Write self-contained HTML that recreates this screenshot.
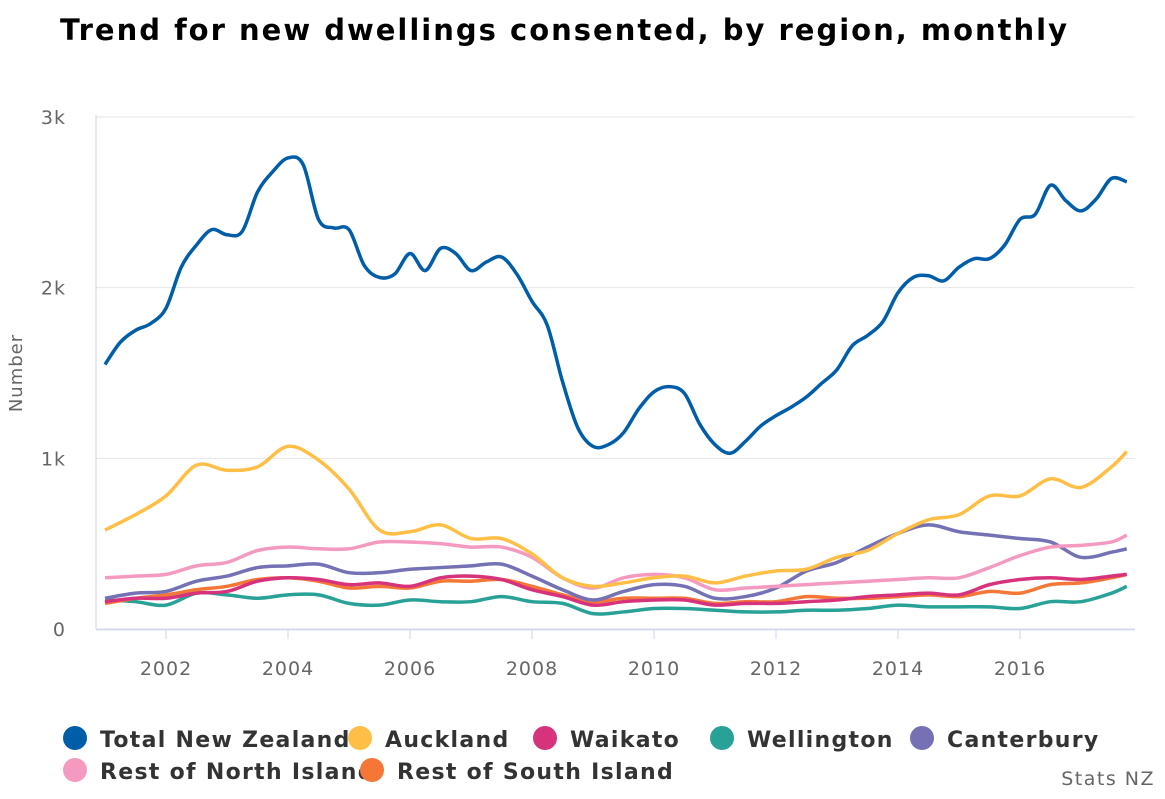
<!DOCTYPE html>
<html><head><meta charset="utf-8"><style>
body{margin:0;background:#fff;width:1165px;height:795px;overflow:hidden;font-family:"DejaVu Sans","Liberation Sans",sans-serif}
</style></head><body>
<svg width="1165" height="795">
<text x="60" y="40" font-size="29" font-weight="bold" fill="#000" letter-spacing="2">Trend for new dwellings consented, by region, monthly</text>
<g id="grid"></g>
<g id="axes"></g>
<text transform="translate(22,373) rotate(-90)" text-anchor="middle" font-size="18" fill="#666" letter-spacing="1">Number</text>
<g id="series"></g>
<g id="legend"></g>
<text x="1155" y="785" text-anchor="end" font-size="19" fill="#666" letter-spacing="1.5">Stats NZ</text>
</svg>
<script>
const yTicks=[0,1000,2000,3000];
const yTickLabels=["0","1k","2k","3k"];
const xTicks=[2002,2004,2006,2008,2010,2012,2014,2016];
const quarterYears=[];for(let i=0;i<=67;i++)quarterYears.push(2001+i*0.25);
const halfYears=[];for(let i=0;i<=33;i++)halfYears.push(2001+i*0.5);halfYears.push(2017.75);
const totalNZ=[1550,1680,1750,1790,1880,2120,2250,2340,2310,2330,2560,2680,2760,2720,2400,2350,2340,2130,2060,2080,2200,2100,2230,2200,2100,2150,2180,2080,1920,1780,1450,1180,1070,1080,1150,1290,1390,1420,1380,1200,1080,1030,1100,1190,1250,1300,1360,1440,1520,1660,1720,1800,1970,2060,2070,2040,2120,2170,2170,2250,2400,2430,2600,2510,2450,2520,2640,2620];
const auckland=[580,670,780,960,930,950,1070,990,820,580,570,610,530,530,440,300,250,270,300,310,270,310,340,350,420,460,560,640,670,780,780,880,830,950,1040];
const waikato=[160,180,180,210,220,280,300,290,260,270,250,300,310,290,230,190,140,160,170,170,140,150,150,160,170,190,200,210,200,260,290,300,290,310,320];
const wellington=[170,160,140,210,200,180,200,200,150,140,170,160,160,190,160,150,90,100,120,120,110,100,100,110,110,120,140,130,130,130,120,160,160,210,250];
const canterbury=[180,210,220,280,310,360,370,380,330,330,350,360,370,380,310,230,170,220,260,250,180,190,240,340,390,480,560,610,570,550,530,510,420,450,470];
const restNI=[300,310,320,370,390,460,480,470,470,510,510,500,480,480,420,300,240,300,320,300,230,240,250,260,270,280,290,300,300,360,430,480,490,510,550];
const restSI=[150,180,200,230,250,290,300,280,240,250,240,280,280,290,250,200,160,180,180,180,150,160,160,190,180,180,190,200,190,220,210,260,270,300,320];
const names=["Total New Zealand","Auckland","Waikato","Wellington","Canterbury","Rest of North Island","Rest of South Island"];
const colors=["#005da8","#ffbf47","#d6337c","#28a197","#7471b5","#f49ac1","#f47738"];
const X0=96,X1=1135,Y0=629,Y3=117;
const xs=v=>105+(v-2001)*61;
const ys=v=>Y0-(v/3000)*(Y0-Y3);
const NS="http://www.w3.org/2000/svg";
function mk(t,a,p){const e=document.createElementNS(NS,t);for(const k in a)e.setAttribute(k,a[k]);p.appendChild(e);return e;}
const grid=document.getElementById('grid'),axes=document.getElementById('axes');
yTicks.forEach((t,i)=>{
 const l=mk('line',{x1:X0,x2:X1,y1:ys(t),y2:ys(t),stroke:'#e6e6e6','stroke-width':1},grid);
 
 
 const tx=mk('text',{x:66,y:ys(t)+7,'text-anchor':'end','font-size':19,fill:'#666','letter-spacing':1},axes);
 tx.textContent=yTickLabels[i];
 
 
});
mk('line',{x1:X0,x2:X0,y1:Y3-2,y2:Y0,stroke:'#ccd6eb','stroke-width':1},axes);
mk('line',{x1:X0,x2:X1,y1:Y0+0.5,y2:Y0+0.5,stroke:'#ccd6eb','stroke-width':1.5},axes);
xTicks.forEach(t=>{
 mk('line',{x1:xs(t),x2:xs(t),y1:Y0,y2:Y0+10,stroke:'#ccd6eb'},axes);
 const tx=mk('text',{x:xs(t),y:Y0+46,'text-anchor':'middle','font-size':19,fill:'#666','letter-spacing':1},axes);
 tx.textContent=t;
 
 
});
function path(xv,yv){
 const p=xv.map((x,i)=>[xs(x),ys(yv[i])]);
 let d='M'+p[0][0]+','+p[0][1];
 for(let i=0;i<p.length-1;i++){
  const p0=p[i-1]||p[i],p1=p[i],p2=p[i+1],p3=p[i+2]||p2;
  d+=` C${p1[0]+(p2[0]-p0[0])/6},${p1[1]+(p2[1]-p0[1])/6} ${p2[0]-(p3[0]-p1[0])/6},${p2[1]-(p3[1]-p1[1])/6} ${p2[0]},${p2[1]}`;
 }
 return d;
}
const ser=document.getElementById('series');
const data=[[quarterYears,totalNZ],[halfYears,auckland],[halfYears,waikato],[halfYears,wellington],[halfYears,canterbury],[halfYears,restNI],[halfYears,restSI]];
const order=[3,6,2,4,5,1,0];
order.forEach(i=>{
 const e=mk('path',{d:path(data[i][0],data[i][1]),fill:'none',stroke:colors[i],'stroke-width':3.5,'stroke-linejoin':'round'},ser);
 
 
});
const leg=document.getElementById('legend');
const lpos=[[75,738],[360,738],[545,738],[722,738],[922,738],[75,770],[372,770]];
names.forEach((n,i)=>{
 const g=mk('g',{},leg);
 
 
 mk('circle',{cx:lpos[i][0],cy:lpos[i][1],r:12,fill:colors[i]},g);
 const t=mk('text',{x:lpos[i][0]+25,y:lpos[i][1]+9,'font-size':22,'font-weight':'bold',fill:'#333','letter-spacing':1.3},g);
 t.textContent=n;
});
</script>
</body></html>
